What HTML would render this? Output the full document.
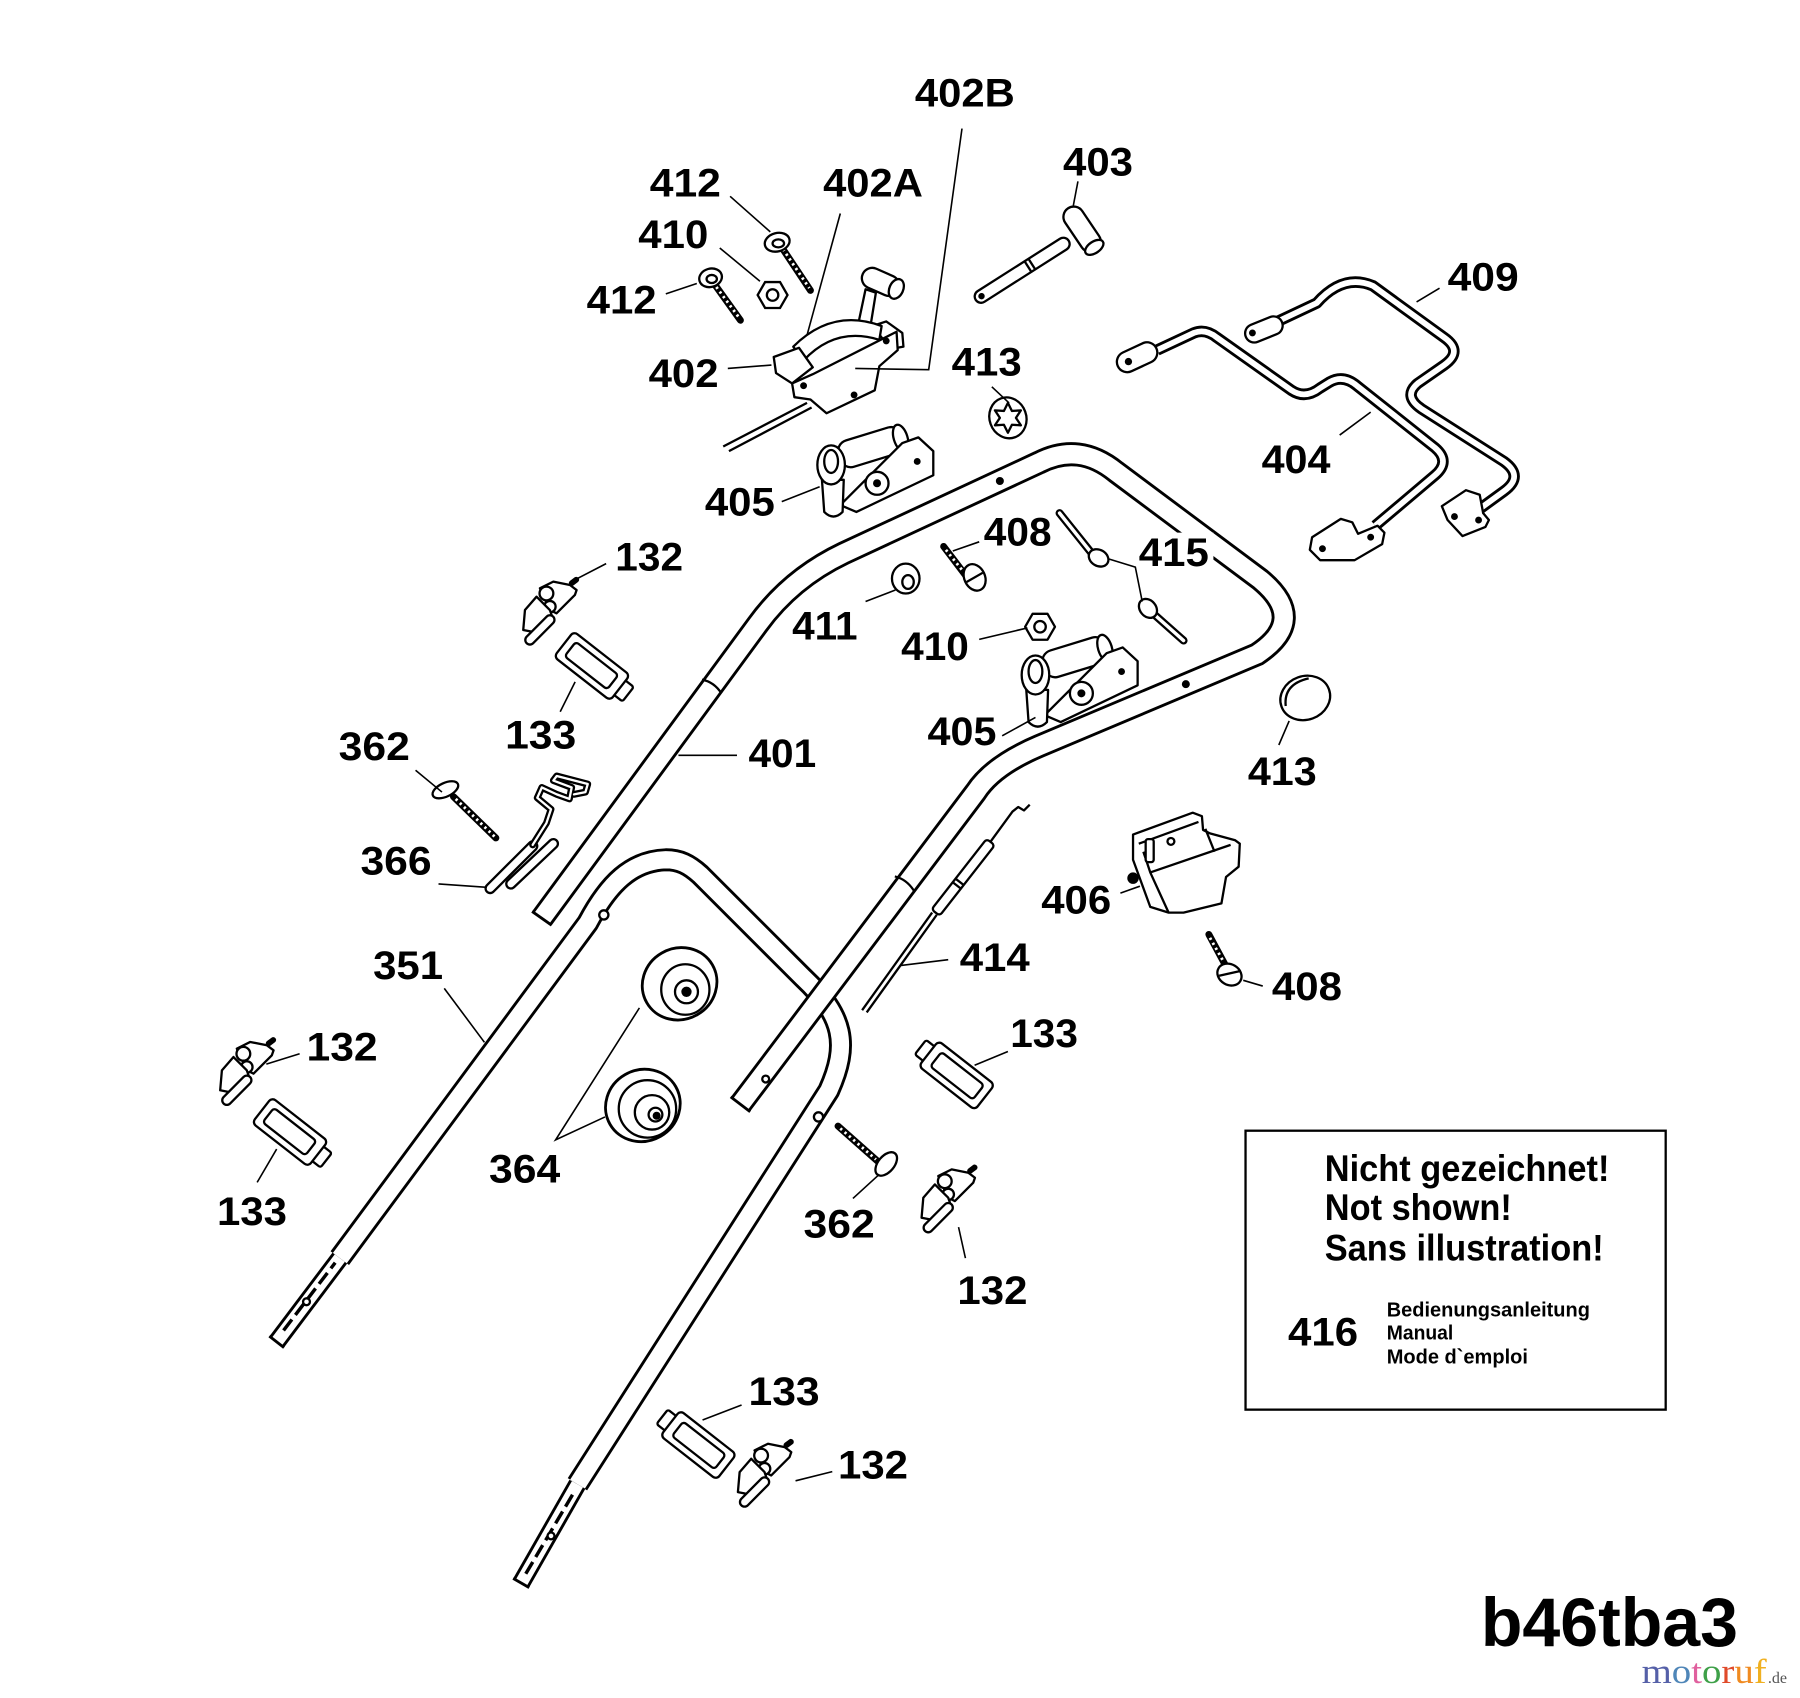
<!DOCTYPE html>
<html><head><meta charset="utf-8"><style>
html,body{margin:0;padding:0;background:#fff;}
svg{display:block;}
text{font-family:"Liberation Sans",Arial,sans-serif;font-weight:bold;fill:#000;}
</style></head><body>
<svg width="1800" height="1698" viewBox="0 0 1568 1479.2" preserveAspectRatio="none" xmlns="http://www.w3.org/2000/svg" xmlns:xlink="http://www.w3.org/1999/xlink">
<rect x="0" y="0" width="1568" height="1480" fill="#fff"/>
<defs>
 <g id="clip" fill="#fff" stroke="#000" stroke-width="2" stroke-linejoin="round">
  <line x1="20" y1="-26" x2="24" y2="-29" stroke-width="5" stroke-linecap="round"/>
  <path d="M-7.7,-21.5 L4,-27.3 L18.5,-24.4 L24.3,-20 L22.8,-15.7 L6.8,0.3 L1,-2.6 Z"/>
  <circle cx="-2" cy="-17" r="6"/>
  <circle cx="1" cy="-5.5" r="5"/>
  <path d="M-20.7,-2.6 L-10.6,-14.2 L1,-2.6 L4,6 L-7.7,17.7 L-22.2,14.8 Z"/>
  <line x1="-16.4" y1="23.5" x2="1" y2="6" stroke-width="10" stroke-linecap="round"/>
  <line x1="-16.4" y1="23.5" x2="1" y2="6" stroke="#fff" stroke-width="6" stroke-linecap="round"/>
 </g>
 <g id="lab" fill="#fff" stroke="#000" stroke-width="2" stroke-linejoin="round">
  <rect x="26" y="-8" width="11" height="16" rx="2"/>
  <rect x="-34" y="-14" width="62" height="28" rx="4"/>
  <rect x="-27" y="-8" width="47" height="16" rx="3"/>
 </g>
 <g id="clamp" fill="#fff" stroke="#000" stroke-width="2" stroke-linejoin="round">
  <g transform="translate(731,398) rotate(-17)"><rect x="0" y="-12" width="58" height="24" rx="10"/><ellipse cx="56" cy="0" rx="6" ry="12"/></g>
  <path d="M732,440 L786,386 L800,381 L813,393 L813,414 L746,446 Z"/>
  <circle cx="764" cy="421" r="10"/>
  <circle cx="764" cy="421" r="2.5" fill="#000"/>
  <circle cx="799" cy="402" r="2" fill="#000"/>
  <path d="M716,418 L718,446 Q726,454 734,446 L735,418 Z"/>
  <ellipse cx="724" cy="405" rx="12" ry="17"/>
  <ellipse cx="724" cy="402" rx="6" ry="10"/>
 </g>
</defs>

<!-- ===== TUBES ===== -->
<g fill="none" stroke-linejoin="round">
 <path d="M296,1096 L512,804 C530,770 550,750 580,749 C592,749 600,753 610,762 L700,852 C735,885 740,910 722,950 L503,1293" stroke="#000" stroke-width="20"/>
 <path d="M296,1096 L512,804 C530,770 550,750 580,749 C592,749 600,753 610,762 L700,852 C735,885 740,910 722,950 L503,1293" stroke="#fff" stroke-width="15"/>
 <path d="M241,1169 L296,1096" stroke="#000" stroke-width="16"/>
 <path d="M241,1169 L296,1096" stroke="#fff" stroke-width="11"/>
 <path d="M454,1379 L503,1293" stroke="#000" stroke-width="16"/>
 <path d="M454,1379 L503,1293" stroke="#fff" stroke-width="11"/>
</g>
<g stroke="#000" fill="none">
 <line x1="234.6" y1="1164" x2="247.4" y2="1174" stroke-width="2.5"/>
 <line x1="447" y1="1375" x2="461" y2="1383" stroke-width="2.5"/>
 <line x1="247" y1="1159" x2="292" y2="1100" stroke-width="3" stroke-dasharray="12 5"/>
 <line x1="458" y1="1371" x2="500" y2="1300" stroke-width="3" stroke-dasharray="12 5"/>
 <circle cx="267" cy="1134" r="3" fill="#fff" stroke-width="2"/>
 <circle cx="480" cy="1338" r="3" fill="#fff" stroke-width="2"/>
 <circle cx="526" cy="797" r="4" fill="#fff" stroke-width="2"/>
 <circle cx="713" cy="973" r="4" fill="#fff" stroke-width="2"/>
</g>
<g fill="none" stroke-linejoin="round">
 <path d="M472,800 L660,544 Q689,504 735,482 L905,403 Q940,385 972,411 L1098,505 Q1140,540 1095,570 L905,650 Q865,667 850,690 L645,962" stroke="#000" stroke-width="21"/>
 <path d="M472,800 L660,544 Q689,504 735,482 L905,403 Q940,385 972,411 L1098,505 Q1140,540 1095,570 L905,650 Q865,667 850,690 L645,962" stroke="#fff" stroke-width="16"/>
</g>
<g stroke="#000" fill="none" stroke-width="2">
 <line x1="463.5" y1="794" x2="480.5" y2="806" stroke-width="2.5"/>
 <line x1="636.5" y1="955.5" x2="653.5" y2="968.5" stroke-width="2.5"/>
 <path d="M611.5,592 Q622,594 628.5,604"/>
 <path d="M779.5,763.5 Q790,766 796.5,776.5"/>
 <circle cx="871" cy="419" r="2.5" fill="#000"/>
 <circle cx="1033" cy="596" r="2.5" fill="#000"/>
 <circle cx="667" cy="940" r="3" fill="#fff"/>
</g>

<!-- ===== 402 lever ===== -->
<g fill="#fff" stroke="#000" stroke-width="2" stroke-linejoin="round">
 <line x1="630" y1="389" x2="703" y2="351"/>
 <line x1="635" y1="393" x2="707" y2="355"/>
 <path d="M746,290 L754,252 L763,255 L757,292 Z"/>
 <g transform="translate(768,246) rotate(24)"><rect x="-18" y="-9" width="34" height="18" rx="9"/><ellipse cx="14" cy="0" rx="6" ry="9"/></g>
 <path d="M760,284 L772,280 L786,290 L787,302 L776,304 Z"/>
 <path d="M691,302 Q725,268 768,284 L766,296 Q728,284 700,314 Z"/>
 <path d="M690,334 L708,326 L781,289 L782,305 L766,319 L762,340 L720,360 L706,348 L692,346 Z"/>
 <path d="M674,311 L696,303 L708,320 L690,334 L676,325 Z"/>
 <circle cx="700" cy="336" r="2" fill="#000"/>
 <circle cx="744" cy="344" r="2" fill="#000"/>
 <circle cx="772" cy="297" r="2" fill="#000"/>
</g>
<!-- 412 / 410 / 412 -->
<g stroke="#000" fill="#fff" stroke-width="2">
 <line x1="680" y1="214" x2="706" y2="253" stroke-width="6" stroke-linecap="round"/>
 <line x1="682" y1="217" x2="705" y2="251" stroke="#fff" stroke-width="2.5" stroke-dasharray="2 3"/>
 <ellipse cx="677" cy="211" rx="11" ry="8" transform="rotate(-15 677 211)"/>
 <ellipse cx="678" cy="212" rx="5" ry="3.5"/>
 <polygon points="686,257 679.5,268.3 666.5,268.3 660,257 666.5,245.7 679.5,245.7"/>
 <circle cx="673" cy="257" r="5"/>
 <line x1="622" y1="247" x2="645" y2="279" stroke-width="6" stroke-linecap="round"/>
 <line x1="624" y1="250" x2="644" y2="277" stroke="#fff" stroke-width="2.5" stroke-dasharray="2 3"/>
 <ellipse cx="619" cy="242" rx="10" ry="8" transform="rotate(-15 619 242)"/>
 <ellipse cx="620" cy="243" rx="4.5" ry="3.5"/>
</g>
<!-- 403 -->
<g fill="#fff" stroke="#000" stroke-width="2" stroke-linejoin="round">
 <g transform="translate(855,258) rotate(-32.5)"><rect x="-6" y="-5.5" width="96" height="11" rx="5.5"/><circle cx="0" cy="0" r="1.8" fill="#000"/><path d="M48,-5.5 L48,5.5 M52,-5.5 L52,5.5" fill="none"/></g>
 <g transform="translate(932,184) rotate(56)"><rect x="-3" y="-9" width="44" height="18" rx="9"/><ellipse cx="38" cy="0" rx="5" ry="9"/></g>
</g>
<!-- 413 top -->
<g fill="#fff" stroke="#000" stroke-width="2" stroke-linejoin="round">
 <ellipse cx="878" cy="364" rx="16" ry="18" transform="rotate(-20 878 364)"/>
 <path d="M878,351 L881.5,358 L889.3,357.5 L885,364 L889.3,370.5 L881.5,370 L878,377 L874.5,370 L866.7,370.5 L871,364 L866.7,357.5 L874.5,358 Z"/>
</g>
<!-- 405 clamps -->
<use xlink:href="#clamp" href="#clamp"/>
<use xlink:href="#clamp" href="#clamp" transform="translate(178,183)"/>

<!-- 409 / 404 -->
<g fill="none" stroke-linejoin="round">
 <path d="M1113,280 L1147,264 Q1170,238 1196,249 L1258,294 Q1275,306 1258,318 L1235,334 Q1222,345 1238,356 L1310,402 Q1328,415 1310,428 L1288,444" stroke="#000" stroke-width="10"/>
 <path d="M1113,280 L1147,264 Q1170,238 1196,249 L1258,294 Q1275,306 1258,318 L1235,334 Q1222,345 1238,356 L1310,402 Q1328,415 1310,428 L1288,444" stroke="#fff" stroke-width="5"/>
 <path d="M1008,305 L1040,290 Q1050,286 1060,294 L1125,340 Q1137,348 1150,338 L1158,333 Q1170,326 1182,336 L1250,390 Q1264,402 1250,414 L1198,458" stroke="#000" stroke-width="10"/>
 <path d="M1008,305 L1040,290 Q1050,286 1060,294 L1125,340 Q1137,348 1150,338 L1158,333 Q1170,326 1182,336 L1250,390 Q1264,402 1250,414 L1198,458" stroke="#fff" stroke-width="5"/>
</g>
<g fill="#fff" stroke="#000" stroke-width="2" stroke-linejoin="round">
 <g transform="translate(1101,287) rotate(-22)"><rect x="-17" y="-8" width="34" height="16" rx="8"/></g>
 <circle cx="1091" cy="290" r="2" fill="#000"/>
 <polygon points="1256,441 1277,427 1289,431 1292,447 1297,453 1294,459 1274,467 1261,453"/>
 <circle cx="1267" cy="450" r="2" fill="#000"/>
 <circle cx="1288" cy="453" r="2" fill="#000"/>
 <g transform="translate(991,311) rotate(-25)"><rect x="-19" y="-9" width="37" height="18" rx="9"/></g>
 <circle cx="983" cy="315" r="2.2" fill="#000"/>
 <polygon points="1143,468 1168,452 1178,455 1183,465 1200,458 1206,464 1204,474 1180,488 1150,488 1141,479"/>
 <circle cx="1152" cy="478" r="2" fill="#000"/>
 <circle cx="1194" cy="468" r="2" fill="#000"/>
</g>

<!-- small hardware -->
<g fill="#fff" stroke="#000" stroke-width="2" stroke-linejoin="round">
 <ellipse cx="789" cy="504" rx="12" ry="13"/>
 <ellipse cx="791" cy="507" rx="5" ry="6"/>
 <line x1="822" y1="476" x2="841" y2="501" stroke-width="6" stroke-linecap="round"/>
 <line x1="824" y1="479" x2="840" y2="499" stroke="#fff" stroke-width="2.5" stroke-dasharray="2 3"/>
 <ellipse cx="849" cy="503" rx="9" ry="12" transform="rotate(-25 849 503)"/>
 <line x1="842" y1="507" x2="856" y2="499"/>
 <line x1="923" y1="447" x2="951" y2="482" stroke-width="7" stroke-linecap="round"/>
 <line x1="923" y1="447" x2="951" y2="482" stroke="#fff" stroke-width="3" stroke-linecap="round"/>
 <ellipse cx="957" cy="486" rx="9" ry="7" transform="rotate(30 957 486)"/>
 <line x1="1004" y1="534" x2="1031" y2="558" stroke-width="7" stroke-linecap="round"/>
 <line x1="1004" y1="534" x2="1031" y2="558" stroke="#fff" stroke-width="3" stroke-linecap="round"/>
 <ellipse cx="1000" cy="530" rx="7" ry="9" transform="rotate(-40 1000 530)"/>
 <polygon points="919,546 912.5,557.3 899.5,557.3 893,546 899.5,534.7 912.5,534.7"/>
 <circle cx="906" cy="546" r="5"/>
 <ellipse cx="1137" cy="608" rx="22" ry="19" transform="rotate(-20 1137 608)"/>
 <path d="M1120,615 Q1118,596 1140,591" fill="none"/>
 <polygon points="987,727 1039,708 1047,711 1048,723 1054,726 1076,732 1080,735 1079,755 1068,764 1064,787 1031,795 1018,795 1002,790 987,749"/>
 <path d="M992,735 L1044,716 M996,742 L1002,760 L1072,736 M1002,760 L1018,795" fill="none"/>
 <rect x="998" y="731" width="7" height="20" rx="2"/>
 <circle cx="1020" cy="733" r="3"/>
 <path d="M1050,722 L1058,742" fill="none"/>
 <circle cx="987" cy="765" r="4" fill="#000"/>
 <line x1="1053" y1="814" x2="1067" y2="840" stroke-width="6" stroke-linecap="round"/>
 <line x1="1054" y1="817" x2="1066" y2="838" stroke="#fff" stroke-width="2.5" stroke-dasharray="2 3"/>
 <ellipse cx="1071" cy="849" rx="11" ry="9" transform="rotate(30 1071 849)"/>
 <line x1="1062" y1="850" x2="1080" y2="846"/>
 <line x1="751" y1="880" x2="812" y2="795"/>
 <line x1="755" y1="882" x2="816" y2="797"/>
 <g transform="translate(815,795) rotate(-52)"><rect x="0" y="-4.5" width="78" height="9" rx="3"/><path d="M30,-4.5 L30,4.5 M34,-4.5 L34,4.5" fill="none"/></g>
 <polyline points="863,733 882,707 887,703 892,706 897,701" fill="none"/>
 <line x1="395" y1="694" x2="432" y2="730" stroke-width="6" stroke-linecap="round"/>
 <line x1="397" y1="696" x2="431" y2="729" stroke="#fff" stroke-width="2.5" stroke-dasharray="2 3"/>
 <ellipse cx="388" cy="688" rx="12" ry="6" transform="rotate(-25 388 688)"/>
 <line x1="730" y1="981" x2="765" y2="1012" stroke-width="6" stroke-linecap="round"/>
 <line x1="732" y1="983" x2="763" y2="1010" stroke="#fff" stroke-width="2.5" stroke-dasharray="2 3"/>
 <ellipse cx="772" cy="1014" rx="12" ry="7" transform="rotate(-50 772 1014)"/>
 <line x1="427" y1="774" x2="464" y2="737" stroke-width="10" stroke-linecap="round"/>
 <line x1="427" y1="774" x2="464" y2="737" stroke="#fff" stroke-width="6" stroke-linecap="round"/>
 <line x1="445" y1="770" x2="482" y2="735" stroke-width="10" stroke-linecap="round"/>
 <line x1="445" y1="770" x2="482" y2="735" stroke="#fff" stroke-width="6" stroke-linecap="round"/>
 <polyline points="464,736 476,717 480,705 468,695 472,686 485,692 496,696 498,686 482,680 485,676 512,683 510,690 500,692" fill="none" stroke-width="6" stroke-linecap="round"/>
 <polyline points="464,736 476,717 480,705 468,695 472,686 485,692 496,696 498,686 482,680 485,676 512,683 510,690 500,692" fill="none" stroke="#fff" stroke-width="2" stroke-linecap="round"/>
 <ellipse cx="592" cy="857" rx="33" ry="31" transform="rotate(-30 592 857)" stroke-width="2.5"/>
 <ellipse cx="597" cy="862" rx="21" ry="22"/>
 <circle cx="598" cy="864" r="10"/>
 <circle cx="598" cy="864" r="3.5" fill="#000"/>
 <ellipse cx="560" cy="963" rx="33" ry="31" transform="rotate(-30 560 963)" stroke-width="2.5"/>
 <ellipse cx="564" cy="966" rx="25" ry="25"/>
 <circle cx="568" cy="969" r="15"/>
 <circle cx="571" cy="971" r="6"/>
 <circle cx="572" cy="972" r="2.5" fill="#000"/>
</g>

<use xlink:href="#clip" href="#clip" transform="translate(478,534)"/>
<use xlink:href="#clip" href="#clip" transform="translate(214,935)"/>
<use xlink:href="#clip" href="#clip" transform="translate(825,1046)"/>
<use xlink:href="#clip" href="#clip" transform="translate(665,1285)"/>
<use xlink:href="#lab" href="#lab" transform="translate(518,582) rotate(38)"/>
<use xlink:href="#lab" href="#lab" transform="translate(255,988) rotate(38)"/>
<use xlink:href="#lab" href="#lab" transform="translate(831,935) rotate(218)"/>
<use xlink:href="#lab" href="#lab" transform="translate(606,1257) rotate(218)"/>

<!-- leader lines -->
<g stroke="#000" stroke-width="1.4" fill="none">
 <polyline points="838,112 809,322 745,321"/>
 <line x1="732" y1="186" x2="703" y2="292"/>
 <line x1="636" y1="171" x2="671" y2="202"/>
 <line x1="627" y1="216" x2="662" y2="245"/>
 <line x1="580" y1="256" x2="607" y2="247"/>
 <line x1="634" y1="321" x2="672" y2="318"/>
 <line x1="939" y1="158" x2="935" y2="179"/>
 <line x1="1234" y1="263" x2="1254" y2="251"/>
 <line x1="864" y1="337" x2="879" y2="351"/>
 <line x1="1167" y1="379" x2="1194" y2="359"/>
 <line x1="681" y1="437" x2="714" y2="424"/>
 <line x1="853" y1="472" x2="830" y2="480"/>
 <polyline points="966,487 989,494 995,524"/>
 <line x1="528" y1="491" x2="501" y2="505"/>
 <line x1="501" y1="594" x2="488" y2="620"/>
 <line x1="754" y1="524" x2="780" y2="514"/>
 <line x1="853" y1="557" x2="895" y2="547"/>
 <line x1="873" y1="641" x2="902" y2="625"/>
 <line x1="1123" y1="628" x2="1114" y2="649"/>
 <line x1="362" y1="671" x2="385" y2="690"/>
 <line x1="382" y1="770" x2="424" y2="773"/>
 <line x1="591" y1="658" x2="642" y2="658"/>
 <line x1="976" y1="778" x2="993" y2="772"/>
 <line x1="785" y1="841" x2="826" y2="836"/>
 <line x1="387" y1="861" x2="422" y2="908"/>
 <line x1="1083" y1="854" x2="1100" y2="859"/>
 <line x1="261" y1="918" x2="232" y2="927"/>
 <line x1="849" y1="928" x2="878" y2="916"/>
 <polyline points="557,878 484,993 527,973"/>
 <line x1="224" y1="1030" x2="241" y2="1001"/>
 <line x1="743" y1="1044" x2="766" y2="1023"/>
 <line x1="841" y1="1096" x2="835" y2="1069"/>
 <line x1="612" y1="1237" x2="646" y2="1224"/>
 <line x1="693" y1="1290" x2="725" y2="1282"/>
</g>

<!-- labels -->
<rect x="990" y="464" width="67" height="32" fill="#fff"/>
<g font-size="35">
 <text x="797" y="93" textLength="87" lengthAdjust="spacingAndGlyphs">402B</text>
 <text x="566" y="171" textLength="62" lengthAdjust="spacingAndGlyphs">412</text>
 <text x="717" y="171" textLength="87" lengthAdjust="spacingAndGlyphs">402A</text>
 <text x="556" y="216" textLength="61" lengthAdjust="spacingAndGlyphs">410</text>
 <text x="511" y="273" textLength="61" lengthAdjust="spacingAndGlyphs">412</text>
 <text x="565" y="337" textLength="61" lengthAdjust="spacingAndGlyphs">402</text>
 <text x="829" y="327" textLength="61" lengthAdjust="spacingAndGlyphs">413</text>
 <text x="926" y="153" textLength="61" lengthAdjust="spacingAndGlyphs">403</text>
 <text x="1261" y="253" textLength="62" lengthAdjust="spacingAndGlyphs">409</text>
 <text x="1099" y="412" textLength="60" lengthAdjust="spacingAndGlyphs">404</text>
 <text x="614" y="449" textLength="61" lengthAdjust="spacingAndGlyphs">405</text>
 <text x="857" y="475" textLength="59" lengthAdjust="spacingAndGlyphs">408</text>
 <text x="992" y="493" textLength="61" lengthAdjust="spacingAndGlyphs">415</text>
 <text x="536" y="497" textLength="59" lengthAdjust="spacingAndGlyphs">132</text>
 <text x="690" y="557" textLength="57" lengthAdjust="spacingAndGlyphs">411</text>
 <text x="785" y="575" textLength="59" lengthAdjust="spacingAndGlyphs">410</text>
 <text x="440" y="652" textLength="62" lengthAdjust="spacingAndGlyphs">133</text>
 <text x="808" y="649" textLength="60" lengthAdjust="spacingAndGlyphs">405</text>
 <text x="652" y="668" textLength="59" lengthAdjust="spacingAndGlyphs">401</text>
 <text x="1087" y="684" textLength="60" lengthAdjust="spacingAndGlyphs">413</text>
 <text x="295" y="662" textLength="62" lengthAdjust="spacingAndGlyphs">362</text>
 <text x="314" y="762" textLength="62" lengthAdjust="spacingAndGlyphs">366</text>
 <text x="907" y="796" textLength="61" lengthAdjust="spacingAndGlyphs">406</text>
 <text x="836" y="846" textLength="61" lengthAdjust="spacingAndGlyphs">414</text>
 <text x="325" y="853" textLength="61" lengthAdjust="spacingAndGlyphs">351</text>
 <text x="1108" y="871" textLength="61" lengthAdjust="spacingAndGlyphs">408</text>
 <text x="267" y="924" textLength="62" lengthAdjust="spacingAndGlyphs">132</text>
 <text x="880" y="912" textLength="59" lengthAdjust="spacingAndGlyphs">133</text>
 <text x="426" y="1030" textLength="62" lengthAdjust="spacingAndGlyphs">364</text>
 <text x="189" y="1067" textLength="61" lengthAdjust="spacingAndGlyphs">133</text>
 <text x="700" y="1078" textLength="62" lengthAdjust="spacingAndGlyphs">362</text>
 <text x="834" y="1136" textLength="61" lengthAdjust="spacingAndGlyphs">132</text>
 <text x="652" y="1224" textLength="62" lengthAdjust="spacingAndGlyphs">133</text>
 <text x="730" y="1288" textLength="61" lengthAdjust="spacingAndGlyphs">132</text>
</g>

<!-- note box -->
<rect x="1085" y="985" width="366" height="243" fill="none" stroke="#000" stroke-width="2"/>
<g font-size="32">
 <text x="1154" y="1029" textLength="248" lengthAdjust="spacingAndGlyphs">Nicht gezeichnet!</text>
 <text x="1154" y="1063" textLength="163" lengthAdjust="spacingAndGlyphs">Not shown!</text>
 <text x="1154" y="1098" textLength="243" lengthAdjust="spacingAndGlyphs">Sans illustration!</text>
</g>
<text x="1122" y="1172" font-size="35" textLength="61" lengthAdjust="spacingAndGlyphs">416</text>
<g font-size="18">
 <text x="1208" y="1147" textLength="177" lengthAdjust="spacingAndGlyphs">Bedienungsanleitung</text>
 <text x="1208" y="1167" textLength="58" lengthAdjust="spacingAndGlyphs">Manual</text>
 <text x="1208" y="1188" textLength="123" lengthAdjust="spacingAndGlyphs">Mode d`emploi</text>
</g>
<text x="1290" y="1434" font-size="60" textLength="224" lengthAdjust="spacingAndGlyphs">b46tba3</text>
<text x="1430" y="1466" font-size="30" textLength="109" lengthAdjust="spacingAndGlyphs" style="font-family:'Liberation Serif',serif;font-weight:normal;"><tspan fill="#5560a8">m</tspan><tspan fill="#4f86b8">o</tspan><tspan fill="#e0609e">t</tspan><tspan fill="#3ea048">o</tspan><tspan fill="#e04a2a">r</tspan><tspan fill="#f08a20">u</tspan><tspan fill="#f0b020">f</tspan></text>
<text x="1540" y="1466" font-size="14" style="font-family:'Liberation Serif',serif;font-weight:normal;fill:#555;">.de</text>
</svg>
</body></html>
